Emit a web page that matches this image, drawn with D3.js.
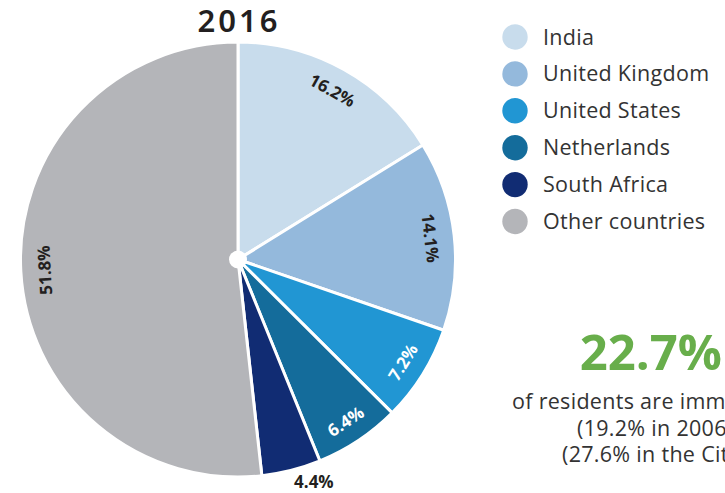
<!DOCTYPE html>
<html>
<head>
<meta charset="utf-8">
<script src="https://cdn.jsdelivr.net/npm/d3@7"></script>
<style>
  html, body { margin: 0; padding: 0; background: #fff; }
  svg { display: block; }
</style>
</head>
<body>
<svg id="chart" width="725" height="493"></svg>
<script>
// ---- data ----
const title = "2016";
const countries = ["India", "United Kingdom", "United States", "Netherlands", "South Africa", "Other countries"];
const shares = [16.2, 14.1, 7.2, 6.4, 4.4, 51.8];
const sliceColors = ["#c8dcec", "#94b9dc", "#2196d3", "#146c9b", "#112c73", "#b4b5b9"];
const labelColors = ["#231f20", "#231f20", "#ffffff", "#ffffff", "#231f20", "#231f20"];
const headlineValue = "22.7%";
const noteLines = ["of residents are immigrants", "(19.2% in 2006)", "(27.6% in the City)"];

// ---- layout ----
const svg = d3.select("#chart");
const cx = 238, cy = 259.5, R = 217.5, labelR = 194;
const fontLabel = "'Open Sans', 'Noto Sans', sans-serif";

svg.append("text")
  .attr("x", cx + 1).attr("y", 32)
  .attr("text-anchor", "middle")
  .attr("font-family", "'Noto Sans', 'Open Sans', sans-serif")
  .attr("font-weight", 600)
  .attr("font-size", 31)
  .attr("letter-spacing", 3)
  .attr("fill", "#231f20")
  .text(title);

const data = countries.map((c, i) => ({ name: c, value: shares[i], color: sliceColors[i], lc: labelColors[i] }));
const pie = d3.pie().sort(null).value(d => d.value);
const arcs = pie(data);
const arc = d3.arc().innerRadius(0).outerRadius(R);

const g = svg.append("g").attr("transform", `translate(${cx},${cy})`);
g.selectAll("path.slice").data(arcs).join("path")
  .attr("class", "slice")
  .attr("d", arc)
  .attr("fill", d => d.data.color)
  .attr("stroke", "#fff")
  .attr("stroke-width", 3)
  .attr("stroke-linejoin", "round");

g.append("circle").attr("r", 9).attr("fill", "#fff");

// labels
arcs.forEach(d => {
  const mid = (d.startAngle + d.endAngle) / 2;
  const deg = mid * 180 / Math.PI;
  const pct = d3.format(".1f")(d.data.value) + "%";
  if (d.data.value < 5) {
    const r = R + 11;
    g.append("text")
      .attr("x", r * Math.sin(mid))
      .attr("y", -r * Math.cos(mid))
      .attr("text-anchor", "start")
      .attr("dominant-baseline", "central")
      .attr("font-family", fontLabel)
      .attr("font-weight", 700)
      .attr("font-size", 17)
      .attr("fill", d.data.lc)
      .text(pct);
  } else {
    let rot = deg;
    if (deg > 90 && deg < 180) rot -= 180;
    const x = labelR * Math.sin(mid), y = -labelR * Math.cos(mid);
    g.append("text")
      .attr("transform", `translate(${x},${y}) rotate(${rot})`)
      .attr("text-anchor", "middle")
      .attr("dominant-baseline", "central")
      .attr("font-family", fontLabel)
      .attr("font-weight", 700)
      .attr("font-size", 17)
      .attr("fill", d.data.lc)
      .text(pct);
  }
});

// legend
const legend = svg.append("g").attr("transform", "translate(515,37)");
const items = legend.selectAll("g").data(data).join("g")
  .attr("transform", (d, i) => `translate(0,${i * 36.9})`);
items.append("circle").attr("r", 12.7).attr("fill", d => d.color);
items.append("text")
  .attr("x", 28).attr("y", 7.5)
  .attr("font-family", fontLabel)
  .attr("font-weight", 400)
  .attr("font-size", 21.5)
  .attr("letter-spacing", 0.3)
  .attr("fill", "#333")
  .text(d => d.name);

// headline
svg.append("text")
  .attr("x", 722).attr("y", 370)
  .attr("text-anchor", "end")
  .attr("font-family", fontLabel)
  .attr("font-weight", 700)
  .attr("font-size", 49)
  .attr("fill", "#68ae4b")
  .text(headlineValue);

const noteX = [512, 577, 562];
noteLines.forEach((t, i) => {
  svg.append("text")
    .attr("x", noteX[i]).attr("y", 409 + i * 26.5)
    .attr("font-family", fontLabel)
    .attr("font-weight", 400)
    .attr("font-size", 21.5)
    .attr("letter-spacing", 0.3)
    .attr("fill", "#333")
    .text(t);
});
</script>
</body>
</html>
